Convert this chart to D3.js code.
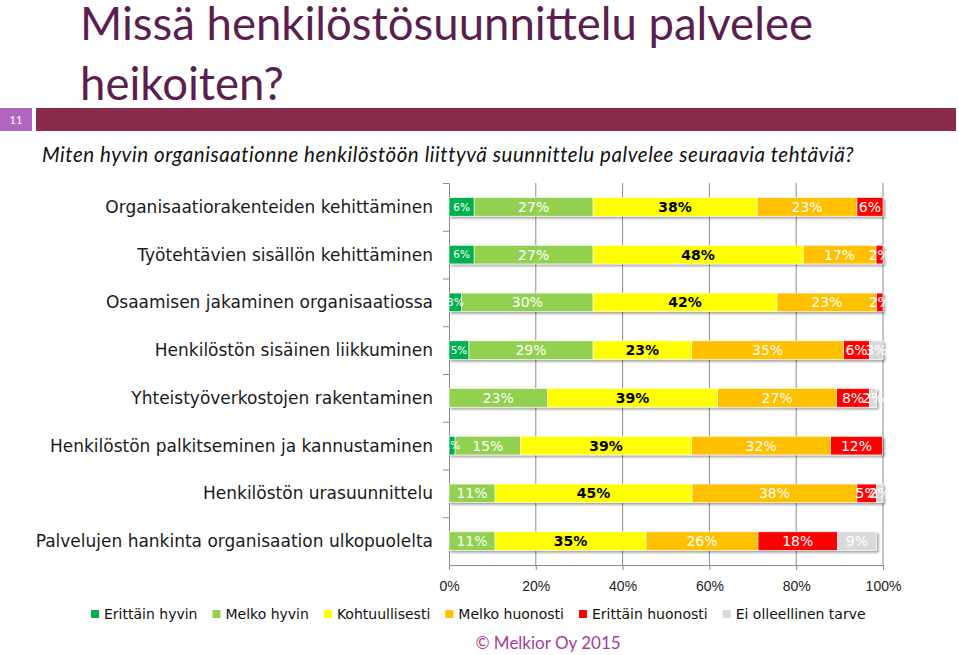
<!DOCTYPE html>
<html>
<head>
<meta charset="utf-8">
<script src="https://cdn.jsdelivr.net/npm/d3@7"></script>
<style>
  body { margin: 0; background: #fff; }
  svg { font-family: "DejaVu Sans", sans-serif; }
  .head { font-family: Lato, sans-serif; }
</style>
</head>
<body>
<div class="chart"></div>
<script>
// categories (top to bottom)
const categories = [
    'Organisaatiorakenteiden kehittäminen',
    'Työtehtävien sisällön kehittäminen',
    'Osaamisen jakaminen organisaatiossa',
    'Henkilöstön sisäinen liikkuminen',
    'Yhteistyöverkostojen rakentaminen',
    'Henkilöstön palkitseminen ja kannustaminen',
    'Henkilöstön urasuunnittelu',
    'Palvelujen hankinta organisaation ulkopuolelta'
];

const seriesNames = ['Erittäin hyvin', 'Melko hyvin', 'Kohtuullisesti', 'Melko huonosti', 'Erittäin huonosti', 'Ei olleellinen tarve'];

// values in %, one array per series, same order as categories
const erittainHyvin   = [5.8, 5.8, 2.9, 4.6, 0, 1.4, 0, 0];
const melkoHyvin      = [27.4, 27.4, 30.3, 28.6, 22.7, 15.1, 10.6, 10.6];
const kohtuullisesti  = [37.8, 48.4, 42.4, 22.7, 39.2, 39.4, 45.4, 34.8];
const melkoHuonosti   = [23.0, 16.8, 22.9, 35.0, 27.4, 32.0, 38.0, 25.8];
const erittainHuonosti = [6.0, 1.6, 1.5, 6.0, 7.6, 12.0, 4.5, 18.3];
const eiTarvetta      = [0, 0, 0, 3.1, 1.6, 0, 1.5, 9.0];

const xTicks = [0, 20, 40, 60, 80, 100];

const colors = ['#00b050', '#92d050', '#ffff00', '#ffc000', '#ff0000', '#d9d9d9'];
const labelColors = ['#fff', '#fff', '#000', '#fff', '#fff', '#fff'];

const width = 959, height = 655;
const margin = {top: 183, left: 449, right: 76, bottom: 90};

const svg = d3.select('.chart')
    .append('svg')
    .attr('width', width)
    .attr('height', height);

// shadow under bars
const defs = svg.append('defs');
defs.append('filter')
    .attr('id', 'shadow')
    .attr('x', '-5%').attr('y', '-20%').attr('width', '110%').attr('height', '160%')
    .append('feDropShadow')
    .attr('dx', 2).attr('dy', 2).attr('stdDeviation', 1)
    .attr('flood-color', '#000').attr('flood-opacity', 0.35);

// header
svg.append('text')
    .attr('class', 'head')
    .attr('x', 80).attr('y', 40)
    .attr('fill', '#5b1f4f')
    .style('font-size', '45.5px')
    .text('Missä henkilöstösuunnittelu palvelee');
svg.append('text')
    .attr('class', 'head')
    .attr('x', 80).attr('y', 100)
    .attr('fill', '#5b1f4f')
    .style('font-size', '45.5px')
    .text('heikoiten?');

svg.append('rect').attr('x', 0).attr('y', 108).attr('width', 32).attr('height', 23).attr('fill', '#b165c1');
svg.append('rect').attr('x', 36).attr('y', 108).attr('width', 920).attr('height', 23).attr('fill', '#882c4e');
svg.append('text')
    .attr('class', 'head')
    .attr('x', 16).attr('y', 124)
    .attr('text-anchor', 'middle')
    .attr('fill', '#fff')
    .style('font-size', '11px')
    .text('11');

svg.append('text')
    .attr('class', 'head')
    .attr('x', 42).attr('y', 162)
    .style('font-size', '20.5px')
    .style('font-style', 'italic')
    .style('letter-spacing', '0.55px')
    .attr('fill', '#111')
    .text('Miten hyvin organisaationne henkilöstöön liittyvä suunnittelu palvelee seuraavia tehtäviä?');

// scales
const x = d3.scaleLinear()
    .domain([0, 100])
    .range([margin.left, width - margin.right]);

const y = d3.scaleBand()
    .domain(categories)
    .range([margin.top, height - margin.bottom])
    .paddingInner(0.61)
    .paddingOuter(0.305);

const yEdges = d3.scaleLinear()
    .domain([0, categories.length])
    .range([margin.top, height - margin.bottom]);

// gridlines
svg.append('g')
    .selectAll('line')
    .data(xTicks.slice(1))
    .join('line')
    .attr('x1', d => x(d)).attr('x2', d => x(d))
    .attr('y1', margin.top).attr('y2', height - margin.bottom)
    .attr('stroke', '#8c8c8c');

// axes
const xAxis = svg.append('g')
    .attr('transform', `translate(0, ${height - margin.bottom})`)
    .call(d3.axisBottom(x).tickValues(xTicks).tickFormat(d => d + '%').tickSize(5).tickSizeOuter(0));
xAxis.selectAll('line, path').attr('stroke', '#8c8c8c');
xAxis.selectAll('text')
    .attr('dy', '1.25em')
    .attr('fill', '#222')
    .style('font-size', '14px');

const yAxis = svg.append('g')
    .attr('transform', `translate(${margin.left}, 0)`)
    .call(d3.axisLeft(yEdges).tickValues(d3.range(categories.length)).tickFormat('').tickSize(6).tickSizeOuter(0));
yAxis.selectAll('line, path').attr('stroke', '#8c8c8c');

// category labels
svg.append('g')
    .selectAll('text')
    .data(categories)
    .join('text')
    .attr('x', 433)
    .attr('y', d => y(d) + y.bandwidth() / 2)
    .attr('dy', '0.36em')
    .attr('text-anchor', 'end')
    .attr('fill', '#1a1a1a')
    .style('font-size', '17px')
    .text(d => d);

// stacked data
const table = categories.map((c, i) => ({
    category: c,
    [seriesNames[0]]: erittainHyvin[i],
    [seriesNames[1]]: melkoHyvin[i],
    [seriesNames[2]]: kohtuullisesti[i],
    [seriesNames[3]]: melkoHuonosti[i],
    [seriesNames[4]]: erittainHuonosti[i],
    [seriesNames[5]]: eiTarvetta[i]
}));
const stacked = d3.stack().keys(seriesNames)(table);

// bars
const barGroup = svg.append('g').attr('filter', 'url(#shadow)');
stacked.forEach((s, k) => {
    barGroup.append('g')
        .attr('fill', colors[k])
        .selectAll('rect')
        .data(s.filter(d => d[1] - d[0] > 0))
        .join('rect')
        .attr('x', d => x(d[0]))
        .attr('y', d => y(d.data.category))
        .attr('width', d => x(d[1]) - x(d[0]))
        .attr('height', y.bandwidth())
        .attr('stroke', '#fff')
        .attr('stroke-width', 0.6);
});

// value labels
stacked.forEach((s, k) => {
    svg.append('g')
        .selectAll('text')
        .data(s.filter(d => d[1] - d[0] > 0))
        .join('text')
        .attr('x', d => (x(d[0]) + x(d[1])) / 2)
        .attr('y', d => y(d.data.category) + y.bandwidth() / 2)
        .attr('dy', '0.36em')
        .attr('text-anchor', 'middle')
        .attr('fill', labelColors[k])
        .style('font-size', k === 0 ? '10.5px' : '14px')
        .style('font-weight', k === 2 ? 'bold' : 'normal')
        .text(d => Math.round(d[1] - d[0]) + '%');
});

// legend
const legend = svg.append('g').attr('transform', 'translate(91, 614)');
let lx = 0;
seriesNames.forEach((name, k) => {
    const item = legend.append('g').attr('transform', `translate(${lx}, 0)`);
    item.append('rect')
        .attr('x', 0).attr('y', -4)
        .attr('width', 8).attr('height', 8)
        .attr('fill', colors[k]);
    const t = item.append('text')
        .attr('x', 13)
        .attr('dy', '0.36em')
        .attr('fill', '#111')
        .style('font-size', '14px')
        .text(name);
    lx += 13 + t.node().getComputedTextLength() + 15;
});

svg.append('text')
    .attr('class', 'head')
    .attr('x', 548).attr('y', 643)
    .attr('dy', '0.35em')
    .attr('text-anchor', 'middle')
    .attr('fill', '#a53d99')
    .style('font-size', '17px')
    .text('© Melkior Oy 2015');
</script>
</body>
</html>
